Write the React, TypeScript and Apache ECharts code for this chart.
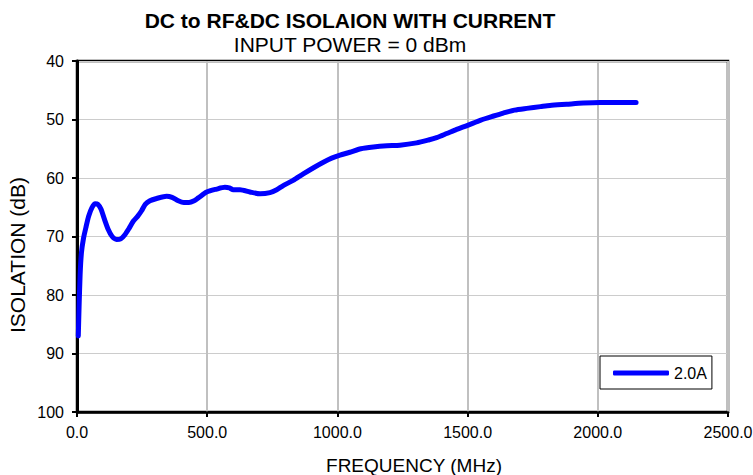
import React, { useEffect, useRef } from "react";
import * as echarts from "echarts";

const titleText = "DC to RF&DC ISOLAION WITH CURRENT";
const subtitleText = "INPUT POWER = 0 dBm";
const xAxisName = "FREQUENCY (MHz)";
const yAxisName = "ISOLATION (dB)";
const seriesName = "2.0A";

const freqMHz = [
  5, 8, 12, 17, 25, 35, 45, 57, 70, 80, 92, 105, 120, 135, 152, 168, 184, 200,
  216, 232, 248, 262, 280, 306, 344, 365, 389, 410, 430, 450, 466, 498, 536,
  568, 585, 600, 626, 664, 703, 741, 767, 792, 830, 869, 910, 946, 978, 1010,
  1048, 1090, 1138, 1190, 1240, 1304, 1350, 1381, 1420, 1458, 1500, 1551,
  1600, 1637, 1680, 1727, 1780, 1816, 1880, 1944, 2008, 2080, 2147,
];
const isolationDb = [
  87.0, 82.0, 76.5, 72.8, 70.3, 68.3, 66.5, 65.1, 64.4, 64.5, 65.3, 67.0, 68.8,
  70.0, 70.5, 70.4, 69.7, 68.6, 67.4, 66.6, 65.6, 64.5, 63.9, 63.5, 63.1, 63.3,
  63.9, 64.2, 64.2, 63.9, 63.4, 62.4, 61.9, 61.6, 61.7, 62.0, 62.0, 62.4, 62.7,
  62.5, 62.0, 61.3, 60.4, 59.3, 58.2, 57.3, 56.6, 56.1, 55.6, 55.0, 54.7, 54.5,
  54.4, 54.0, 53.5, 53.1, 52.4, 51.7, 51.0, 50.1, 49.4, 48.9, 48.4, 48.1, 47.8,
  47.6, 47.4, 47.2, 47.1, 47.1, 47.1,
];

const FONT = "'Liberation Sans', Arial, sans-serif";

export default function App() {
  const ref = useRef<HTMLDivElement>(null);
  useEffect(() => {
    document.body.style.margin = "0";
    const chart = echarts.init(ref.current!, undefined, { renderer: "svg" });
    const data = freqMHz.map((f, i) => [f, isolationDb[i]]);
    chart.setOption({
      animation: false,
      backgroundColor: "#ffffff",
      textStyle: { fontFamily: FONT },
      grid: {
        left: 77,
        right: 25,
        top: 61,
        bottom: 63,
        show: true,
        borderColor: "#000",
        borderWidth: 2.5,
        backgroundColor: "transparent",
        outerBoundsMode: "none",
        containLabel: false,
      },
      graphic: [
        {
          type: "text",
          x: 350,
          y: 20.5,
          style: {
            text: titleText,
            font: `bold 21px ${FONT}`,
            fill: "#000",
            align: "center",
            verticalAlign: "middle",
          },
        },
        {
          type: "text",
          x: 350,
          y: 44,
          style: {
            text: subtitleText,
            font: `21px ${FONT}`,
            fill: "#000",
            align: "center",
            verticalAlign: "middle",
          },
        },
        {
          type: "text",
          x: 414,
          y: 465,
          style: {
            text: xAxisName,
            font: `19px ${FONT}`,
            fill: "#000",
            align: "center",
            verticalAlign: "middle",
          },
        },
        {
          type: "text",
          x: 17,
          y: 255,
          rotation: Math.PI / 2,
          style: {
            text: yAxisName,
            font: `21px ${FONT}`,
            fill: "#000",
            align: "center",
            verticalAlign: "middle",
          },
        },
      ],
      legend: {
        left: 600,
        top: 356,
        orient: "horizontal",
        padding: [9, 5, 8, 13],
        backgroundColor: "#fff",
        borderColor: "#000",
        borderWidth: 1,
        borderRadius: 0,
        itemWidth: 56,
        itemHeight: 5,
        textStyle: { fontSize: 16, color: "#000", fontFamily: FONT },
        data: [{ name: seriesName, icon: "roundRect" }],
      },
      xAxis: {
        type: "value",
        min: 0,
        max: 2500,
        interval: 500,
        axisLine: { show: true, lineStyle: { color: "#000", width: 2.5 } },
        axisTick: { show: true, inside: false, length: 5, lineStyle: { color: "#000", width: 2 } },
        axisLabel: {
          margin: 12,
          fontSize: 16,
          color: "#000",
          fontFamily: FONT,
          formatter: (v: number) => v.toFixed(1),
        },
        splitLine: { show: true, lineStyle: { color: "#c0c0c0", width: 2 } },
      },
      yAxis: {
        type: "value",
        inverse: true,
        min: 40,
        max: 100,
        interval: 10,
        axisLine: { show: true, lineStyle: { color: "#000", width: 3 } },
        axisTick: { show: true, inside: false, length: 5, lineStyle: { color: "#000", width: 2 } },
        axisLabel: { margin: 13, fontSize: 16, color: "#000", fontFamily: FONT },
        splitLine: { show: true, lineStyle: { color: "#cccccc", width: 1.2 } },
      },
      series: [
        {
          name: seriesName,
          type: "line",
          data,
          smooth: 0.25,
          showSymbol: false,
          symbol: "none",
          itemStyle: { color: "#0000ff" },
          lineStyle: { color: "#0000ff", width: 5, cap: "round", join: "round" },
        },
      ],
    });
    return () => chart.dispose();
  }, []);
  return (
    <div
      ref={ref}
      style={{ position: "absolute", left: 0, top: 0, width: 753, height: 475 }}
    />
  );
}
